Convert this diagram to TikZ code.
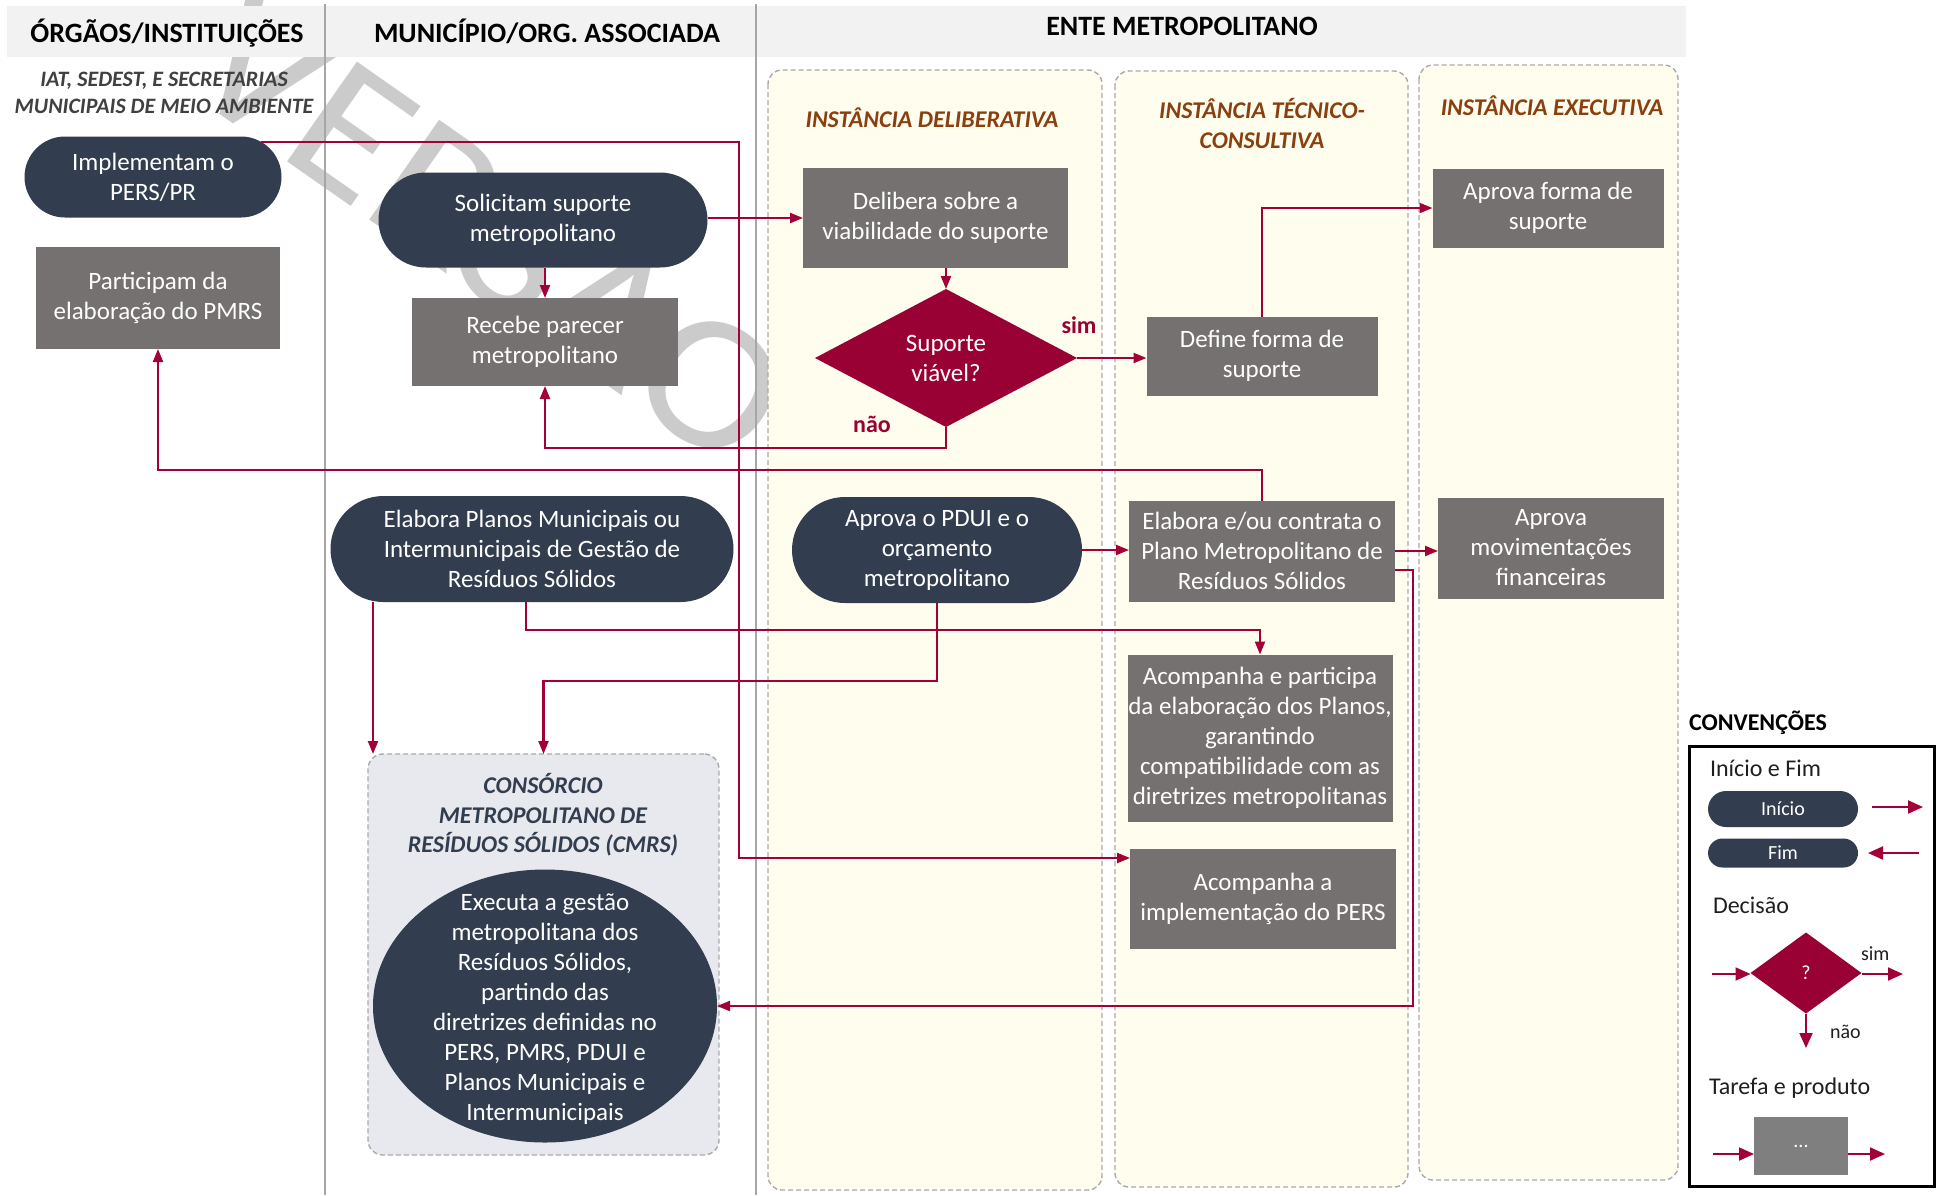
\documentclass[tikz,border=0pt]{standalone}
\usepackage{fontspec}
\setmainfont{Carlito}
\usetikzlibrary{shapes.geometric,shapes.misc,arrows.meta}

\definecolor{navy}{HTML}{323E4F}
\definecolor{taskgray}{HTML}{767171}
\definecolor{legendgray}{HTML}{7F7F7F}
\definecolor{crimson}{HTML}{990033}
\definecolor{linkred}{HTML}{A30037}
\definecolor{lanefill}{HTML}{FFFDEE}
\definecolor{laneedge}{HTML}{AAAAAA}
\definecolor{poolfill}{HTML}{E7E9EE}
\definecolor{headfill}{HTML}{F2F2F2}
\definecolor{lanetitle}{HTML}{8A3F0E}
\definecolor{subtitle}{HTML}{404040}
\definecolor{divider}{HTML}{A6A6A6}
\definecolor{watermark}{HTML}{CBCBCB}
\definecolor{legendtext}{HTML}{1F1F1F}

\newcommand\fsz[2]{\fontsize{#1}{#2}\selectfont}

\begin{document}
\begin{tikzpicture}[x=1pt,y=-1pt,
  every node/.style={inner sep=0pt, outer sep=0pt},
  txt/.style={font=\fsz{25}{30}, text=white, align=center},
  termnode/.style={txt, rounded rectangle, fill=navy},
  tasknode/.style={txt, rectangle, fill=taskgray},
  decnode/.style={txt, diamond, fill=crimson, aspect=1.9},
  link/.style={draw=linkred, line width=2.2pt},
  flow/.style={link, -{Triangle[length=13pt,width=10pt]}},
  bigflow/.style={draw=linkred, line width=2pt, -{Triangle[length=15pt,width=13pt]}},
  lanebox/.style={draw=laneedge, fill=lanefill, line width=1.4pt, dash pattern=on 5pt off 3pt, rounded corners=14pt},
  poolbox/.style={draw=laneedge, fill=poolfill, line width=1.4pt, dash pattern=on 5pt off 3pt, rounded corners=15pt},
  headtxt/.style={font=\bfseries\fsz{28}{32}, text=black, anchor=base},
  lanetxt/.style={font=\bfseries\itshape\fsz{24}{30}, text=lanetitle, align=center},
  choicetxt/.style={font=\bfseries\fsz{24}{28}, text=crimson, anchor=base},
  legtxt/.style={font=\fsz{24}{28}, text=legendtext, anchor=base west},
  legsmall/.style={font=\fsz{20}{24}, text=legendtext, anchor=base west}
]
\useasboundingbox[fill=white] (0,0) rectangle (1937,1195);

% watermark behind everything
\node[font=\fsz{190}{190}, text=watermark, rotate=-35, anchor=base] (wm) at (456,280)
  {\scalebox{1.09}[1]{VERSÃO}};

% header band and column dividers
\fill[headfill] (7,6) rectangle (1686,57);
\draw[divider, line width=1.2pt] (325,4) -- (325,1195);
\draw[divider, line width=1.2pt] (756,4) -- (756,1195);

\node[headtxt] (h1) at (167,42) {ÓRGÃOS/INSTITUIÇÕES};
\node[headtxt] (h2) at (547,42) {MUNICÍPIO/ORG. ASSOCIADA};
\node[headtxt] (h3) at (1182,35) {ENTE METROPOLITANO};

\node[font=\bfseries\itshape\fsz{22}{27}, text=subtitle, align=center] (sub1) at (164,93)
  {IAT, SEDEST, E SECRETARIAS\\MUNICIPAIS DE MEIO AMBIENTE};

% swimlanes of the metropolitan entity
\draw[lanebox] (768,70) rectangle (1102,1190);
\draw[lanebox] (1115,71) rectangle (1408,1187);
\draw[lanebox] (1419,65) rectangle (1678,1180);

\node[lanetxt, anchor=base] (l1) at (932,127) {INSTÂNCIA DELIBERATIVA};
\node[lanetxt, anchor=base] (l2a) at (1262,118) {INSTÂNCIA TÉCNICO-};
\node[lanetxt, anchor=base] (l2b) at (1262,148) {CONSULTIVA};
\node[lanetxt, anchor=base] (l3) at (1552,115) {INSTÂNCIA EXECUTIVA};

% consortium container
\node[poolbox, minimum width=351pt, minimum height=401pt] (cmrsbox) at (543.5,954.5) {};
\node[font=\bfseries\itshape\fsz{24}{30}, text=navy, anchor=base] (cm1) at (543,793) {CONSÓRCIO};
\node[font=\bfseries\itshape\fsz{24}{30}, text=navy, anchor=base] (cm2) at (543,823) {METROPOLITANO DE};
\node[font=\bfseries\itshape\fsz{24}{30}, text=navy, anchor=base] (cm3) at (543,852) {RESÍDUOS SÓLIDOS (CMRS)};

% process nodes
\node[termnode, minimum width=257pt, minimum height=81pt] (impl) at (153,177) {Implementam o\\PERS/PR};
\node[tasknode, minimum width=244pt, minimum height=102pt] (partic) at (158,298) {Participam da\\elaboração do PMRS};
\node[termnode, minimum width=329pt, minimum height=95pt] (solic) at (543,220) {Solicitam suporte\\metropolitano};
\node[tasknode, minimum width=266pt, minimum height=88pt] (recebe) at (545,342) {Recebe parecer\\metropolitano};
\node[tasknode, minimum width=265pt, minimum height=100pt] (delib) at (935.5,218) {Delibera sobre a\\viabilidade do suporte};
\node[decnode, minimum width=262pt, minimum height=138pt] (viavel) at (946,358) {Suporte\\viável?};
\node[tasknode, minimum width=231pt, minimum height=79pt] (define) at (1262,356) {Define forma de\\suporte};
\node[tasknode, minimum width=231pt, minimum height=79pt] (aprforma) at (1548,208) {Aprova forma de\\suporte};
\node[termnode, minimum width=403pt, minimum height=106pt] (elabpl) at (532,549)
  {Elabora Planos Municipais ou\\Intermunicipais de Gestão de\\Resíduos Sólidos};
\node[termnode, minimum width=290pt, minimum height=106pt] (pdui) at (937,550)
  {Aprova o PDUI e o\\orçamento\\metropolitano};
\node[tasknode, minimum width=266pt, minimum height=101pt] (elabmet) at (1262,551)
  {Elabora e/ou contrata o\\Plano Metropolitano de\\Resíduos Sólidos};
\node[tasknode, minimum width=226pt, minimum height=101pt] (aprmov) at (1551,548)
  {Aprova\\movimentações\\financeiras};
\node[tasknode, minimum width=265pt, minimum height=167pt] (acpart) at (1260,738)
  {Acompanha e participa\\da elaboração dos Planos,\\garantindo\\compatibilidade com as\\diretrizes metropolitanas};
\node[tasknode, minimum width=266pt, minimum height=100pt] (acimpl) at (1263,899)
  {Acompanha a\\implementação do PERS};
\node[ellipse, fill=navy, minimum width=344pt, minimum height=273pt] (cmrs) at (545,1006) {};
\node[txt] (cmrstxt) at (545,1009)
  {Executa a gestão\\metropolitana dos\\Resíduos Sólidos,\\partindo das\\diretrizes definidas no\\PERS, PMRS, PDUI e\\Planos Municipais e\\Intermunicipais};

% bend points of the connectors
\coordinate (naoturn) at (946,448);
\coordinate (backrow) at (0,470);
\coordinate (elabcolA) at (373,0);
\coordinate (elabcolB) at (526,0);
\coordinate (acrow) at (0,630);
\coordinate (pduirow) at (0,681);
\path (impl.18) ++(478,0) coordinate (implbend);
\path ([yshift=-19pt]elabmet.east) ++(18,0) coordinate (cmrsbend);

% connectors
\draw[flow] (delib.west -| solic.east) -- (delib.west);
\draw[flow] (recebe.north |- solic.south) -- (recebe.north);
\draw[flow] (viavel.north |- delib.south) -- (viavel.north);
\draw[flow] (viavel.east) -- (viavel.east -| define.west);
\draw[flow] (define.north) |- (aprforma.west);
\draw[flow] (viavel.south) -- (naoturn) -| (recebe.south);
\draw[flow] (elabmet.north) -- (elabmet.north |- backrow) -| (partic.south);
\draw[flow] (impl.18) -- (implbend) |- ([yshift=-9pt]acimpl.north west);
\draw[flow] (elabcolA |- elabpl.south) -- (elabcolA |- cmrsbox.north);
\draw[flow] (elabcolB |- elabpl.south) -- (elabcolB |- acrow) -| (acpart.north);
\draw[flow] (pdui.south) -- (pdui.south |- pduirow) -| (cmrsbox.north);
\draw[flow] (pdui.east) -- (pdui.east -| elabmet.west);
\draw[flow] (elabmet.east) -- (elabmet.east -| aprmov.west);
\draw[flow] ([yshift=-19pt]elabmet.east) -- (cmrsbend) |- (cmrs.east);

\node[choicetxt] (simlbl) at (1079,333) {sim};
\node[choicetxt] (naolbl) at (872,432) {não};

% legend
\node[font=\bfseries\fsz{24}{28}, text=black, anchor=base west] (legtitle) at (1689,730) {CONVENÇÕES};
\draw[black, line width=3pt] (1689,746) rectangle (1934,1186);

\node[legtxt] (legl1) at (1710,776) {Início e Fim};
\node[termnode, font=\fsz{20}{24}, minimum width=150pt, minimum height=36pt] (legini) at (1783,809) {Início};
\node[termnode, font=\fsz{20}{24}, minimum width=150pt, minimum height=29pt] (legfim) at (1783,853) {Fim};
\coordinate (lia) at (1872,807);
\coordinate (lib) at (1923,807);
\coordinate (lfa) at (1919,853);
\coordinate (lfb) at (1868,853);
\draw[bigflow] (lia) -- (lib);
\draw[bigflow] (lfa) -- (lfb);

\node[legtxt] (legl2) at (1713,913) {Decisão};
\node[decnode, font=\fsz{20}{24}, minimum width=111pt, minimum height=81pt] (legdec) at (1806,973) {?};
\coordinate (ldin) at (1712,974);
\coordinate (ldout) at (1903,974);
\coordinate (lddown) at (1806,1048);
\draw[bigflow] (ldin) -- (ldin -| legdec.west);
\draw[bigflow] (ldout -| legdec.east) -- (ldout);
\draw[bigflow] (legdec.south) -- (lddown);
\node[legsmall] (legsim) at (1861,960) {sim};
\node[legsmall] (legnao) at (1830,1038) {não};

\node[legtxt] (legl3) at (1709,1094) {Tarefa e produto};
\node[tasknode, fill=legendgray, font=\fsz{20}{24}, minimum width=94pt, minimum height=58pt] (legtask) at (1801,1146) {...};
\coordinate (ltin) at (1713,1154);
\coordinate (ltout) at (1885,1154);
\draw[bigflow] (ltin) -- (ltin -| legtask.west);
\draw[bigflow] (ltout -| legtask.east) -- (ltout);
\end{tikzpicture}
\end{document}
